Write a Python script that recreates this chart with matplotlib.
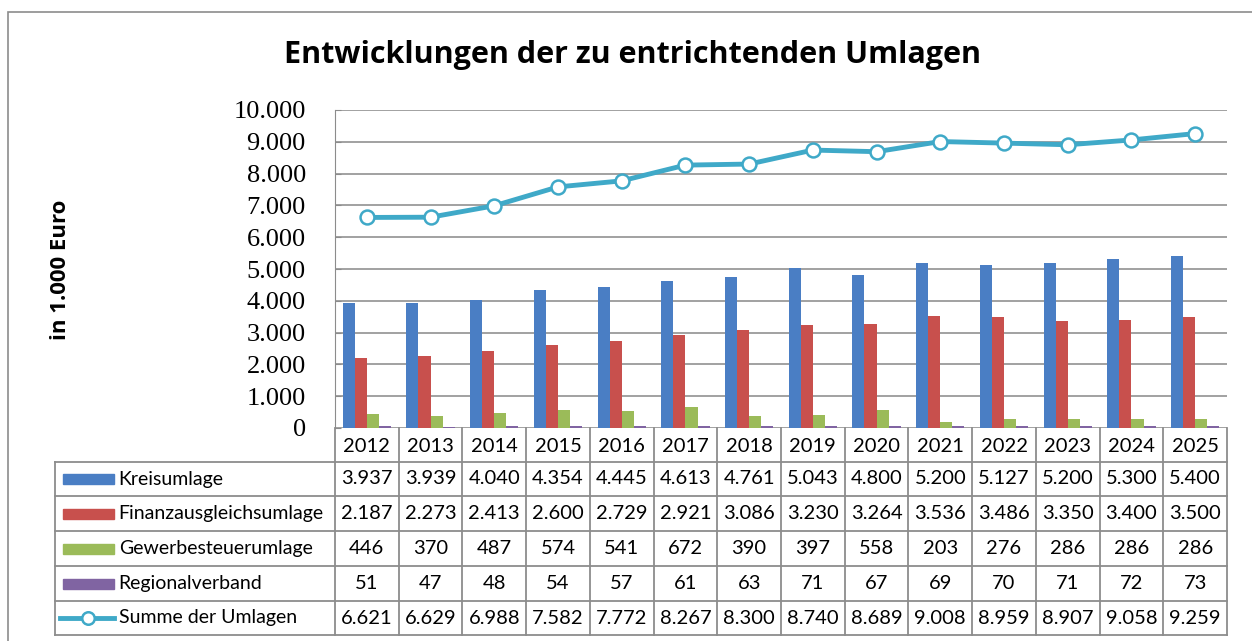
import numpy as np
import matplotlib.pyplot as plt
from matplotlib.patches import Rectangle
from matplotlib.lines import Line2D

years = ['2012', '2013', '2014', '2015', '2016', '2017', '2018',
         '2019', '2020', '2021', '2022', '2023', '2024', '2025']
kreis = [3937, 3939, 4040, 4354, 4445, 4613, 4761, 5043, 4800, 5200, 5127, 5200, 5300, 5400]
finanz = [2187, 2273, 2413, 2600, 2729, 2921, 3086, 3230, 3264, 3536, 3486, 3350, 3400, 3500]
gewerbe = [446, 370, 487, 574, 541, 672, 390, 397, 558, 203, 276, 286, 286, 286]
regional = [51, 47, 48, 54, 57, 61, 63, 71, 67, 69, 70, 71, 72, 73]
summe = [6621, 6629, 6988, 7582, 7772, 8267, 8300, 8740, 8689, 9008, 8959, 8907, 9058, 9259]

names = ['Kreisumlage', 'Finanzausgleichsumlage', 'Gewerbesteuerumlage',
         'Regionalverband', 'Summe der Umlagen']
colors = ['#4a7ec4', '#c8504d', '#9bbb59', '#8064a2', '#3fa9c8']

W, H = 1252, 641
fig = plt.figure(figsize=(W / 100, H / 100), dpi=100)

def fx(px):
    return px / W

def fy(py):
    return 1 - py / H

# aeusserer Rahmen
fig.add_artist(Rectangle((fx(8), fy(700)), fx(1300), fy(12) - fy(700),
                         transform=fig.transFigure, fill=False,
                         edgecolor='#8c8c8c', lw=1.2))

ax_l, ax_r, ax_t, ax_b = 335, 1227, 110, 428
ax = fig.add_axes([fx(ax_l), fy(ax_b), fx(ax_r - ax_l), fy(ax_t) - fy(ax_b)])

x = np.arange(len(years))
bw = 0.19
series = [kreis, finanz, gewerbe, regional]
for i, vals in enumerate(series):
    ax.bar(x - 1.5 * bw + i * bw, vals, width=bw, color=colors[i], zorder=3)
ax.plot(x, summe, color=colors[4], lw=3.5, marker='o', ms=10,
        mfc='white', mec=colors[4], mew=1.8, zorder=4)

ax.set_xlim(-0.5, len(years) - 0.5)
ax.set_ylim(0, 10000)
ax.set_yticks(np.arange(0, 10001, 1000))
ax.set_yticklabels([f'{v:,}'.replace(',', '.') for v in range(0, 10001, 1000)],
                   family='Liberation Serif', fontsize=19)
ax.set_xticks([])
ax.grid(axis='y', color='#9a9a9a', lw=1.3, zorder=0)
for s in ['top', 'right', 'bottom']:
    ax.spines[s].set_visible(False)
ax.spines['left'].set_color('#8c8c8c')
ax.tick_params(axis='y', direction='in', length=4, color='#8c8c8c', pad=21)

fig.text(fx(632), fy(55), 'Entwicklungen der zu entrichtenden Umlagen',
         ha='center', va='center', fontsize=22, fontweight='bold', family='Open Sans')
fig.text(fx(60), fy(270), 'in 1.000 Euro', rotation=90, ha='center', va='center',
         fontsize=16, fontweight='bold', family='Open Sans')

# Datentabelle unter dem Diagramm
tab_l, tab_t, tab_b = 55, 428, 636
tab = fig.add_axes([fx(tab_l), fy(tab_b), fx(ax_r - tab_l), fy(tab_t) - fy(tab_b)])
col_w = (ax_r - ax_l) / len(years)
left_edge = -0.5 - (ax_l - tab_l) / col_w
tab.set_xlim(left_edge, len(years) - 0.5)
tab.set_ylim(tab_b, tab_t)
tab.axis('off')

row_edges = [428, 462, 496, 531, 566, 601, 635]
gc = '#8c8c8c'
for r in row_edges[1:]:
    tab.plot([left_edge, len(years) - 0.5], [r, r], color=gc, lw=1.3, clip_on=False)
for c in range(len(years) + 1):
    tab.plot([c - 0.5, c - 0.5], [row_edges[0], row_edges[-1]], color=gc, lw=1.3, clip_on=False)
tab.plot([left_edge, left_edge], [row_edges[1], row_edges[-1]], color=gc, lw=1.3, clip_on=False)

tfont = dict(family='Lato', fontsize=14.5)
for j, yr in enumerate(years):
    tab.text(j, (row_edges[0] + row_edges[1]) / 2 + 2, yr, ha='center', va='center', **tfont)

rows = [kreis, finanz, gewerbe, regional, summe]
key_x0 = left_edge + 0.125
key_x1 = left_edge + 0.93
for i, (name, vals) in enumerate(zip(names, rows)):
    yc = (row_edges[i + 1] + row_edges[i + 2]) / 2
    if i < 4:
        tab.add_patch(Rectangle((key_x0, yc - 5), key_x1 - key_x0, 10,
                                color=colors[i], clip_on=False))
    else:
        tab.add_line(Line2D([key_x0 - 0.05, key_x1], [yc, yc], color=colors[4], lw=3.5,
                            clip_on=False))
        tab.plot([left_edge + 0.52], [yc], marker='o', ms=9, mfc='white',
                 mec=colors[4], mew=1.8, clip_on=False)
    tab.text(key_x1 + 0.07, yc, name, ha='left', va='center', family='Lato', fontsize=14)
    for j, v in enumerate(vals):
        tab.text(j, yc, f'{v:,}'.replace(',', '.'), ha='center', va='center', **tfont)

fig.savefig('out.png', dpi=100)
